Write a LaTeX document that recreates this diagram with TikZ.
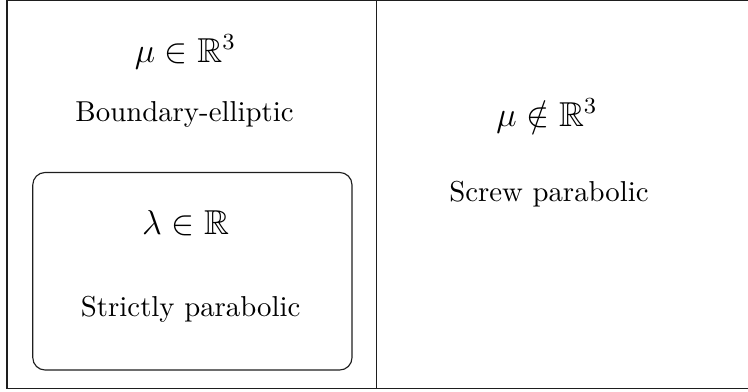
\documentclass[tikz,border=0pt]{standalone}
\usepackage{xcolor}
\usepackage{amsmath}
\usepackage{amssymb}
\usepackage{tikz}
\usetikzlibrary{positioning, calc}
\definecolor{mydark}{RGB}{30,30,30}
\tikzset{
  panel/.style={draw=mydark, line width=0.4pt},
  roundbox/.style={draw=mydark, line width=0.4pt, rounded corners=4.3pt},
  mathlab/.style={anchor=base, font=\large, inner sep=0pt},
  namelab/.style={anchor=base, font=\normalsize, inner sep=0pt}
}

\begin{document}
\begin{tikzpicture}
  \useasboundingbox (0,0) rectangle (9.129,4.772);
  \clip (0,0) rectangle (9.129,4.772);
  % outer frame and divider
  \draw[panel] (0.0854,0.0305) rectangle (9.6,4.762);
  \draw[panel] (4.595,0.0305) -- (4.595,4.762);
  % inner box
  \draw[roundbox] (0.400,0.256) rectangle (4.296,2.667);
  % left column
  \node[mathlab] (muin) at (2.264,4.009) {$\mu \in \mathbb{R}^3$};
  \node[namelab] (bell) at (2.252,3.287) {Boundary-elliptic};
  \node[mathlab] (lamin) at (2.264,1.904) {$\lambda \in \mathbb{R}$};
  \node[namelab] (spar) at (2.327,0.907) {Strictly parabolic};
  % right column
  \node[mathlab] (munotin) at (6.676,3.234) {$\mu \notin \mathbb{R}^3$};
  \node[namelab] (spara) at (6.700,2.310) {Screw parabolic};
\end{tikzpicture}
\end{document}
